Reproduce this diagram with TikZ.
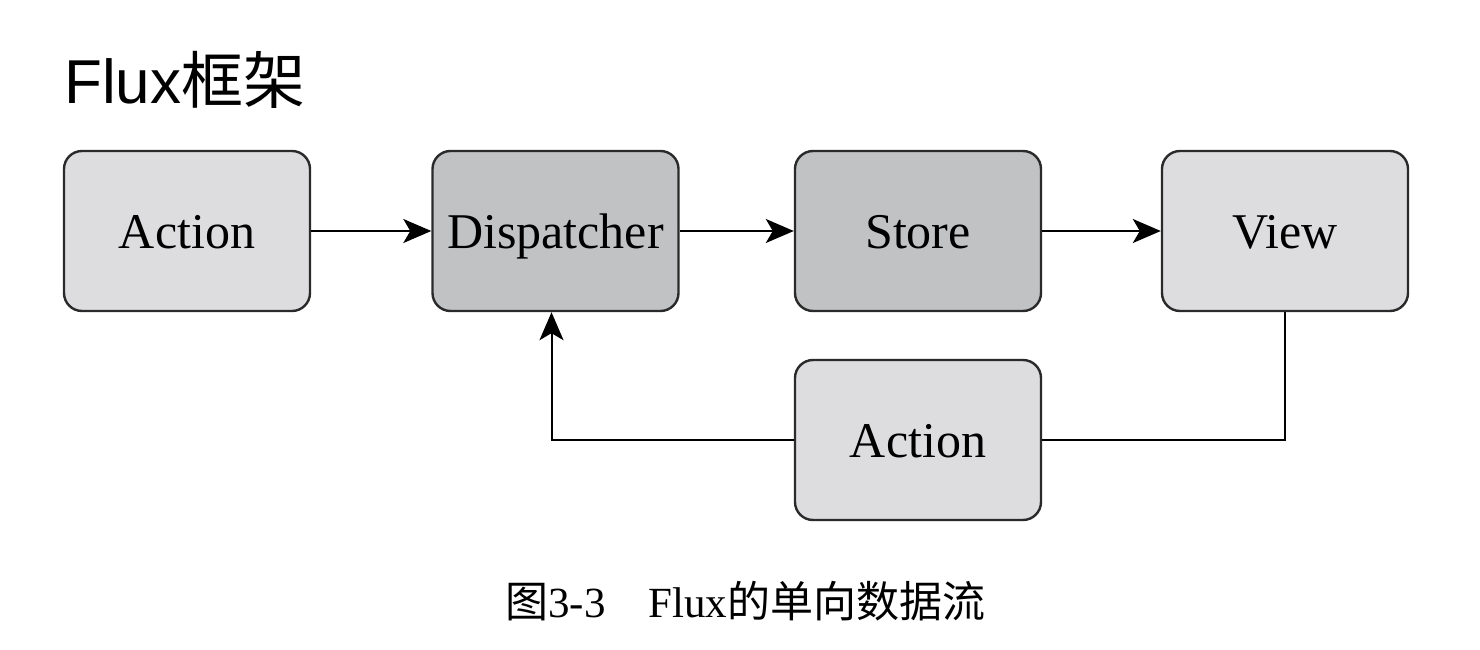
\documentclass[tikz,border=0pt]{standalone}
\usepackage{fontspec}
\setmainfont{Liberation Serif}
\newfontfamily\cjk{Noto Sans CJK SC}
\newfontfamily\arialf{Liberation Sans}
\usetikzlibrary{arrows.meta}
\definecolor{lightbox}{HTML}{DDDDDF}
\definecolor{darkbox}{HTML}{C0C2C4}
\definecolor{edge}{HTML}{2A2A2A}
\tikzset{
  box/.style={draw=edge, line width=2.4pt, rounded corners=18pt, minimum width=246pt, minimum height=160pt,
    inner sep=0pt, font=\fontsize{50}{60}\selectfont, text height=34pt, text depth=0pt},
  lightb/.style={box, fill=lightbox},
  darkb/.style={box, fill=darkbox},
  conn/.style={line width=2pt, draw=black},
  arr/.style={conn, -{Stealth[length=28pt,width=24pt,inset=7pt]}}
}
\begin{document}
\begin{tikzpicture}[x=1pt,y=-1pt]
\useasboundingbox (0,0) rectangle (1480,650);
\node[anchor=base west, inner sep=0pt] (title) at (64,104) {\fontsize{62}{70}\selectfont\arialf Flux\cjk 框架};
\node[lightb] (a1) at (187,231) {Action};
\node[darkb] (disp) at (555.5,231) {Dispatcher};
\node[darkb] (store) at (918,231) {Store};
\node[lightb] (view) at (1285,231) {View};
\node[lightb] (a2) at (918,440) {Action};
\draw[arr] (a1.east) -- (disp.west);
\draw[arr] (disp.east) -- (store.west);
\draw[arr] (store.east) -- (view.west);
\draw[conn] (view.south) |- (a2.east);
\draw[arr] (a2.west) -| ([xshift=-4pt]disp.south);
\node[anchor=base west, inner sep=0pt] (cap) at (505,617) {\fontsize{43}{50}\selectfont{\cjk 图}3-3\hspace{43pt}Flux{\cjk 的单向数据流}};
\end{tikzpicture}
\end{document}
